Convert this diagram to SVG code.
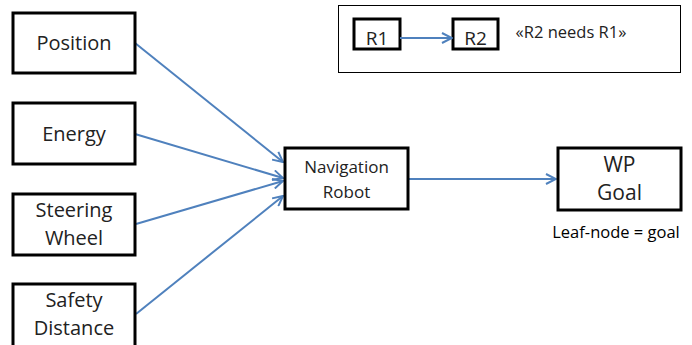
<svg xmlns="http://www.w3.org/2000/svg" width="692" height="345" viewBox="0 0 692 345">
<style>
.n{fill:#fff;stroke:#000;stroke-width:3}
.t{font-family:"Open Sans","Liberation Sans",sans-serif;fill:#222;text-anchor:middle}
.c{fill:none;stroke:#4F81BD;stroke-width:2;marker-end:url(#ah)}
</style>
<defs>
<marker id="ah" viewBox="0 0 12 12" refX="11" refY="6" markerWidth="12" markerHeight="12" markerUnits="userSpaceOnUse" orient="auto">
<path d="M1,1 L11,6 L1,11" fill="none" stroke="#4F81BD" stroke-width="2"/>
</marker>
</defs>
<rect width="692" height="345" fill="#fff"/>
<g id="legend">
<rect x="338.5" y="5.5" width="342" height="67" fill="#fff" stroke="#000" stroke-width="1"/>
<rect class="n" x="354" y="19" width="46" height="30"/>
<text class="t" x="377" y="45" font-size="19">R1</text>
<rect class="n" x="453" y="19" width="45" height="30"/>
<text class="t" x="475.5" y="45" font-size="19">R2</text>
<path class="c" d="M400,38 L452,38"/>
<text class="t" x="571" y="38" font-size="16.5">«R2 needs R1»</text>
</g>
<g id="connectors">
<path class="c" d="M135,43 L283,162"/>
<path class="c" d="M135,134 L283,178"/>
<path class="c" d="M136,224 L283,181"/>
<path class="c" d="M136,314 L283,196"/>
<path class="c" d="M408,179 L556,179"/>
</g>
<g id="position">
<rect class="n" x="13" y="13" width="122" height="60"/>
<text class="t" x="74" y="50" font-size="20">Position</text>
</g>
<g id="energy">
<rect class="n" x="13" y="103" width="122" height="61"/>
<text class="t" x="74" y="141" font-size="20">Energy</text>
</g>
<g id="steering">
<rect class="n" x="13" y="194" width="122" height="61"/>
<text class="t" x="74" y="217" font-size="20">Steering</text>
<text class="t" x="74" y="245" font-size="20">Wheel</text>
</g>
<g id="safety">
<rect class="n" x="13" y="284" width="122" height="64"/>
<text class="t" x="74" y="307" font-size="20">Safety</text>
<text class="t" x="74" y="335" font-size="20">Distance</text>
</g>
<g id="navigation">
<rect class="n" x="285" y="148" width="123" height="61"/>
<text class="t" x="346.5" y="173" font-size="17">Navigation</text>
<text class="t" x="346.5" y="198" font-size="17">Robot</text>
</g>
<g id="wp">
<rect class="n" x="558" y="148" width="123" height="62"/>
<text class="t" x="619.5" y="172" font-size="21">WP</text>
<text class="t" x="619.5" y="200" font-size="21">Goal</text>
<text class="t" x="616" y="238" font-size="16.5" style="fill:#000">Leaf-node = goal</text>
</g>
</svg>
